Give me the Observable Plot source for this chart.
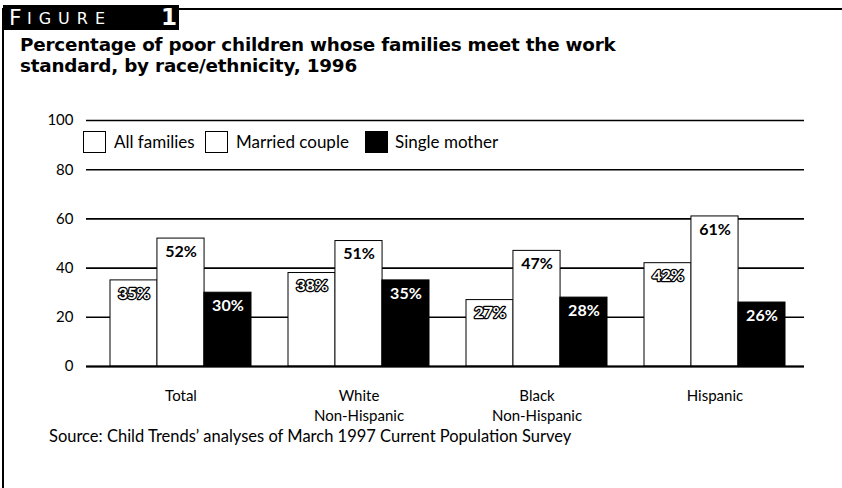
<!DOCTYPE html>
<html>
<head>
<meta charset="utf-8">
<script src="https://cdn.jsdelivr.net/npm/d3@7"></script>
<script src="https://cdn.jsdelivr.net/npm/@observablehq/plot@0.6"></script>
<style>
  html, body { margin: 0; padding: 0; background: #fff; }
  body { width: 842px; height: 488px; overflow: hidden; position: relative; font-family: Lato, "Noto Sans", sans-serif; color: #000; }
  #frameTop { position: absolute; left: 3px; top: 8px; right: 0; height: 2px; background: #000; z-index: 10; }
  #frameLeft { position: absolute; left: 2px; top: 8px; bottom: 0; width: 2px; background: #000; z-index: 10; }
  #figlabel { position: absolute; left: 3px; top: 5px; width: 176px; height: 25px; background: #000; color: #fff; font-family: "DejaVu Sans", sans-serif; white-space: nowrap; z-index: 11; }
  #figlabel .f { position: absolute; left: 6px; top: 0px; font-size: 22px; line-height: 25px; }
  #figlabel .rest { position: absolute; left: 24px; top: 3px; font-size: 16px; line-height: 22px; letter-spacing: 7px; }
  #figlabel .n { position: absolute; left: 158px; top: 0px; font-size: 23px; line-height: 25px; font-weight: bold; }
  #header { position: relative; height: 100px; }
  #title { position: absolute; left: 20px; top: 35px; font-family: "DejaVu Sans", Lato, sans-serif; font-weight: bold; font-size: 17px; line-height: 1.12; white-space: nowrap; letter-spacing: -0.2px; }
  #chart { position: relative; height: 325px; }
  #legend { position: absolute; left: 0; top: 0; width: 842px; height: 60px; font-size: 17px; white-space: nowrap; }
  #legend .sw { position: absolute; top: 31px; width: 23px; height: 22px; border: 1px solid #000; box-sizing: border-box; }
  #legend .lab { position: absolute; top: 31px; line-height: 22px; }
  #caption { position: absolute; left: 49px; top: 426px; font-size: 16.5px; line-height: 20px; white-space: nowrap; }
</style>
</head>
<body>
<div id="frameTop"></div>
<div id="frameLeft"></div>
<div id="header">
  <div id="figlabel"><span class="f">F</span><span class="rest">IGURE</span><span class="n">1</span></div>
  <div id="title">Percentage of poor children whose families meet the work<br>standard, by race/ethnicity, 1996</div>
</div>
<div id="chart"></div>
<div id="caption">Source: Child Trends’ analyses of March 1997 Current Population Survey</div>
<script>
// ---- data ----
const groups = ["Total", "White Non-Hispanic", "Black Non-Hispanic", "Hispanic"];
const groupLabels = ["Total", "White\nNon-Hispanic", "Black\nNon-Hispanic", "Hispanic"];
const seriesNames = ["All families", "Married couple", "Single mother"];
const allFamilies = [35, 38, 27, 42];
const marriedCouple = [52, 51, 47, 61];
const singleMother = [30, 35, 28, 26];
const yTicks = [0, 20, 40, 60, 80, 100];

const seriesValues = [allFamilies, marriedCouple, singleMother];
const seriesFill = ["#fff", "#fff", "#000"];
const rows = [];
seriesNames.forEach((s, si) => groups.forEach((g, gi) => rows.push({group: g, series: s, si, value: seriesValues[si][gi]})));

const W = 842, H = 325;
const mL = 91, mR = 38, mT = 20, mB = 59;
const step = (W - mL - mR) / 4;
const bw = step * (1 - 0.21) / 3; // width of one bar within a group

const marks = [
  Plot.ruleY(yTicks, {stroke: "#000", strokeWidth: 1.6, insetLeft: -5, insetRight: 0})
];
seriesNames.forEach((s, si) => {
  const d = rows.filter(r => r.si === si);
  marks.push(Plot.barY(d, {
    x: "group", y: "value",
    fill: seriesFill[si], stroke: "#000", strokeWidth: 1,
    insetLeft: si * bw, insetRight: (2 - si) * bw
  }));
  marks.push(Plot.text(d, {
    x: "group", y: "value", text: d => d.value + "%",
    dx: (si - 1) * bw, dy: 13,
    fontSize: 16, fontWeight: "bold",
    fill: si === 1 ? "#000" : "#fff",
    stroke: si === 0 ? "#000" : "none", strokeWidth: si === 0 ? 2.6 : 0,
    paintOrder: "stroke"
  }));
});
marks.push(Plot.ruleY([0], {stroke: "#000", strokeWidth: 2, insetLeft: -5}));
marks.push(Plot.text(groups, {
  x: d => d, text: (d, i) => groupLabels[i],
  frameAnchor: "bottom", lineAnchor: "top", dy: 20,
  fontSize: 15, lineHeight: 1.33
}));

const chart = Plot.plot({
  width: W, height: H,
  marginLeft: mL, marginRight: mR, marginTop: mT, marginBottom: mB,
  style: {fontFamily: "Lato, 'Noto Sans', sans-serif", fontSize: "15px", color: "#000", background: "#fff"},
  x: {domain: groups, paddingInner: 0.21, paddingOuter: 0.105, axis: null},
  y: {domain: [0, 100], ticks: yTicks, tickSize: 0, tickPadding: 18, label: null},
  marks
});
document.getElementById("chart").appendChild(chart);

// legend (HTML, placed over the plot's top band)
const legend = document.createElement("div");
legend.id = "legend";
const swX = [83, 205, 365], labX = [114, 236, 395];
seriesNames.forEach((s, si) => {
  const sw = document.createElement("div");
  sw.className = "sw";
  sw.style.left = swX[si] + "px";
  sw.style.background = seriesFill[si];
  const t = document.createElement("span");
  t.className = "lab";
  t.style.left = labX[si] + "px";
  t.textContent = s;
  legend.appendChild(sw); legend.appendChild(t);
});
document.getElementById("chart").appendChild(legend);

// fit the title width to the reference layout
function fit(el, target, base) {
  const w = el.getBoundingClientRect().width;
  if (w > 0) el.style.fontSize = Math.min(base * 1.15, base * target / w).toFixed(2) + "px";
}
fit(document.getElementById("title"), 595, 17);
</script>
</body>
</html>
